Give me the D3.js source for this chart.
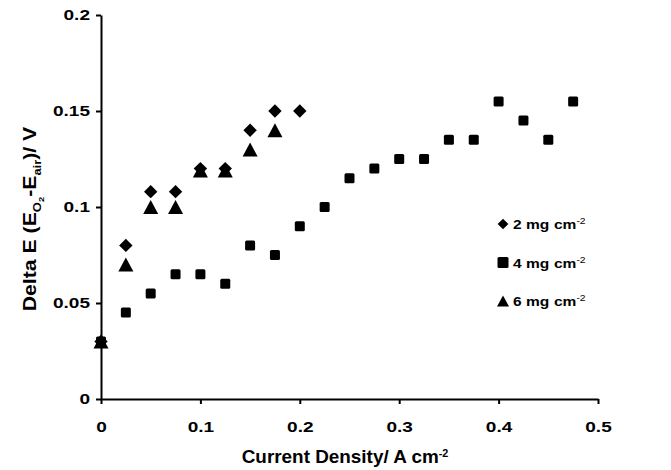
<!DOCTYPE html>
<html>
<head>
<meta charset="utf-8">
<script src="https://cdn.jsdelivr.net/npm/d3@7"></script>
<style>
  body { margin: 0; background: #fff; }
  text { font-family: "Liberation Sans", Arial, sans-serif; font-weight: bold; fill: #000; }
</style>
</head>
<body>
<div id="chart"></div>
<script>
// data
var x2 = [0, 0.025, 0.05, 0.075, 0.1, 0.125, 0.15, 0.175, 0.2];
var y2 = [0.03, 0.08, 0.108, 0.108, 0.12, 0.12, 0.14, 0.15, 0.15];

var x4 = [0, 0.025, 0.05, 0.075, 0.1, 0.125, 0.15, 0.175, 0.2, 0.225,
          0.25, 0.275, 0.3, 0.325, 0.35, 0.375, 0.4, 0.425, 0.45, 0.475];
var y4 = [0.03, 0.045, 0.055, 0.065, 0.065, 0.06, 0.08, 0.075, 0.09, 0.1,
          0.115, 0.12, 0.125, 0.125, 0.135, 0.135, 0.155, 0.145, 0.135, 0.155];

var x6 = [0, 0.025, 0.05, 0.075, 0.1, 0.125, 0.15, 0.175];
var y6 = [0.03, 0.07, 0.1, 0.1, 0.119, 0.119, 0.13, 0.14];

var xTicks = [0, 0.1, 0.2, 0.3, 0.4, 0.5];
var yTicks = [0, 0.05, 0.1, 0.15, 0.2];

var series = [
  {name: "2", xs: x2, ys: y2, shape: "diamond"},
  {name: "4", xs: x4, ys: y4, shape: "square"},
  {name: "6", xs: x6, ys: y6, shape: "triangle"}
];

var W = 671, H = 470;
var margin = {top: 15, right: 73, bottom: 71, left: 101},
    width = W - margin.left - margin.right,
    height = H - margin.top - margin.bottom;

var svg = d3.select("#chart").append("svg")
    .attr("width", W)
    .attr("height", H);

var g = svg.append("g")
    .attr("transform", "translate(" + margin.left + "," + margin.top + ")");

var x = d3.scaleLinear().domain([0, 0.5]).range([0, width]);
var y = d3.scaleLinear().domain([0, 0.2]).range([height, 0]);

var fmt = function(d) { return d === 0 ? "0" : String(d); };
var stretch = 1.27; // the source text is a bit wide

var xAxis = g.append("g")
    .attr("transform", "translate(0," + height + ")")
    .call(d3.axisBottom(x).tickValues(xTicks).tickFormat(fmt).tickSize(5).tickSizeOuter(0));
var yAxis = g.append("g")
    .call(d3.axisLeft(y).tickValues(yTicks).tickFormat(fmt).tickSize(5).tickSizeOuter(0));

[xAxis, yAxis].forEach(function(a) {
  a.select(".domain").attr("stroke", "#000").attr("stroke-width", 2);
  a.selectAll(".tick line").attr("stroke", "#000").attr("stroke-width", 2);
  a.selectAll(".tick text")
    .style("font-family", "'Liberation Sans', Arial, sans-serif")
    .style("font-weight", "bold")
    .style("font-size", "15px")
    .attr("fill", "#000");
});
xAxis.selectAll(".tick text")
    .attr("y", 33).attr("dy", 0)
    .attr("transform", "scale(" + stretch + ",1)");
yAxis.selectAll(".tick text")
    .attr("x", 0)
    .attr("transform", "translate(-11,0) scale(" + stretch + ",1)");

// marker shapes, centred on their bounding box
function marker(shape, k) {
  if (shape === "diamond") {
    var r = 6.7 * k;
    return "M0," + (-r) + "L" + r + ",0L0," + r + "L" + (-r) + ",0Z";
  }
  if (shape === "triangle") {
    var w = 7.5 * k, h = 7 * k;
    return "M0," + (-h) + "L" + w + "," + h + "L" + (-w) + "," + h + "Z";
  }
  var s = 5 * k, c = 1.5;
  return "M" + (-s + c) + "," + (-s) + "H" + (s - c) + "Q" + s + "," + (-s) + " " + s + "," + (-s + c) +
         "V" + (s - c) + "Q" + s + "," + s + " " + (s - c) + "," + s +
         "H" + (-s + c) + "Q" + (-s) + "," + s + " " + (-s) + "," + (s - c) +
         "V" + (-s + c) + "Q" + (-s) + "," + (-s) + " " + (-s + c) + "," + (-s) + "Z";
}

series.forEach(function(s) {
  g.append("g").selectAll("path")
    .data(s.xs.map(function(v, i) { return [v, s.ys[i]]; }))
    .enter().append("path")
      .attr("d", marker(s.shape, 1))
      .attr("transform", function(d) { return "translate(" + x(d[0]) + "," + y(d[1]) + ")"; })
      .attr("fill", "#000");
});

// legend
var legendScale = {diamond: 0.8, square: 1.1, triangle: 0.8};
var legend = svg.append("g").attr("transform", "translate(503,224)");
series.forEach(function(s, i) {
  var row = legend.append("g").attr("transform", "translate(0," + (i * 38.5) + ")");
  row.append("path")
    .attr("d", marker(s.shape, legendScale[s.shape]))
    .attr("fill", "#000");
  row.append("text")
    .attr("transform", "translate(10,5) scale(1.15,1)")
    .style("font-size", "13.5px")
    .text(s.name + " mg");
  var c = row.append("text")
    .attr("transform", "translate(51,5) scale(1.15,1)")
    .style("font-size", "13.5px");
  c.append("tspan").text("cm");
  c.append("tspan").attr("dy", -5).style("font-size", "9px").style("font-weight", "normal").text("-2");
});

// x title
var xt = svg.append("text")
    .attr("transform", "translate(345,463) scale(1.08,1)")
    .attr("text-anchor", "middle")
    .style("font-size", "17.5px");
xt.append("tspan").text("Current Density/ A cm");
xt.append("tspan").attr("dy", -6).style("font-size", "10px").text("-2");

// y title
var yt = svg.append("text")
    .attr("transform", "translate(36,219) rotate(-90) scale(1.18,1)")
    .attr("text-anchor", "middle")
    .style("font-size", "18px");
yt.append("tspan").text("Delta E (E");
yt.append("tspan").attr("dy", 5).style("font-size", "11px").text("O");
yt.append("tspan").attr("dy", 3).style("font-size", "8px").text("2");
yt.append("tspan").attr("dy", -8).text("-E");
yt.append("tspan").attr("dy", 5).style("font-size", "11px").text("air");
yt.append("tspan").attr("dy", -5).text(")/ V");
</script>
</body>
</html>
